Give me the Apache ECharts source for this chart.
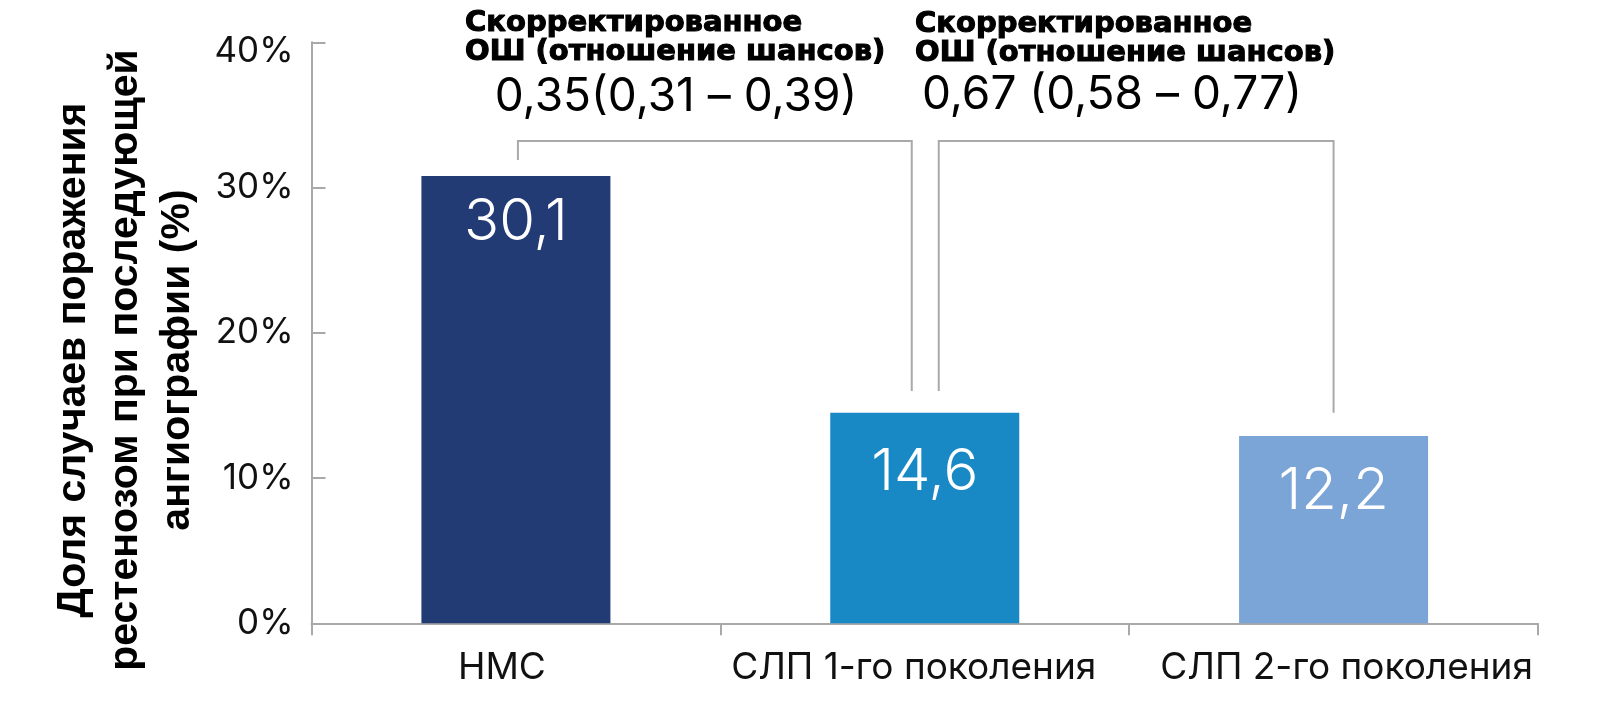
<!DOCTYPE html>
<html>
<head>
<meta charset="utf-8">
<script src="https://cdn.jsdelivr.net/npm/echarts@6/dist/echarts.min.js"></script>
<style>
html,body{margin:0;padding:0;background:#fff;}
#chart{width:1613px;height:710px;}
</style>
</head>
<body>
<div id="chart"></div>
<script>
// ---- data ----
const categories = ['НМС', 'СЛП 1-го поколения', 'СЛП 2-го поколения'];
const barValues = [30.8, 14.5, 12.9];          // bar heights as drawn
const barLabels = ['30,1', '14,6', '12,2'];    // printed values
const yTickLabels = ['0%', '10%', '20%', '30%', '40%'];
const yTitleLines = ['Доля случаев поражения', 'рестенозом при последующей', 'ангиографии (%)'];
const ratioTitle1 = 'Скорректированное';
const ratioTitle2 = 'ОШ (отношение шансов)';
const ratioValues = ['0,35(0,31 – 0,39)', '0,67 (0,58 – 0,77)'];
// brackets: from category, to category, value at left foot, value at right foot, value of top
const bracketFrom = [0, 1];
const bracketTo = [1, 2];
const bracketFromVal = [31.9, 16.0];
const bracketToVal = [16.0, 14.5];
const bracketTopVal = [33.2, 33.2];

// ---- styles ----
const barColors = ['#233b74', '#1889c5', '#7ba4d7'];
const labelDist = [18, 31, 27];
const bracketInset = [[2, -13], [14, 0]];
const xLabelPad = [[0, 28, 0, 0], [0, 22, 0, 0], [0, 0, 0, 26]];
const gray = '#a9a9a9';
const numFont = 'Inter, Roboto, sans-serif';
const boldFont = 'bold 29px "DejaVu Sans", sans-serif';

const chart = echarts.init(document.getElementById('chart'), null, {renderer: 'canvas'});

const bracketData = bracketFrom.map((f, i) => [f, bracketTo[i], bracketFromVal[i], bracketToVal[i], bracketTopVal[i]]);

const xRich = {};
categories.forEach((c, i) => {
  xRich['c' + i] = {fontSize: 37, fontFamily: numFont, color: '#111', padding: xLabelPad[i]};
});

function boldText(x, y, text) {
  return {type: 'text', x: x, y: y, style: {text: text, font: boldFont, fill: '#000', stroke: '#000', lineWidth: 1.1, align: 'left', verticalAlign: 'middle'}};
}

const option = {
  animation: false,
  grid: {left: 311.5, right: 75, top: 42.3, bottom: 86.7, containLabel: false},
  xAxis: {
    type: 'category',
    data: categories,
    axisLine: {lineStyle: {color: gray, width: 2}},
    axisTick: {show: true, length: 12, lineStyle: {color: gray, width: 2}},
    axisLabel: {
      interval: 0,
      margin: 26, color: '#111', fontSize: 37, fontFamily: numFont,
      formatter: function (v, i) { return '{c' + i + '|' + v + '}'; },
      rich: xRich
    }
  },
  yAxis: {
    type: 'value',
    min: 0, max: 40, interval: 10,
    splitLine: {show: false},
    axisLine: {show: true, lineStyle: {color: gray, width: 2}},
    axisTick: {show: true, inside: true, length: 14, lineStyle: {color: gray, width: 2}},
    axisLabel: {
      margin: 18, color: '#111', fontSize: 35, fontFamily: numFont,
      formatter: function (v) {
        const t = yTickLabels[Math.round(v / 10)];
        return v === 40 ? '{top|' + t + '}' : t;
      },
      rich: {top: {fontSize: 35, fontFamily: numFont, color: '#111', padding: [18, 0, 0, 0]}}
    }
  },
  series: [
    {
      type: 'bar',
      barWidth: 189,
      data: barValues.map((v, i) => ({
        value: v,
        itemStyle: {color: barColors[i]},
        label: {distance: labelDist[i]}
      })),
      label: {
        show: true,
        position: 'insideTop',
        color: '#fff',
        fontSize: 58,
        fontWeight: 300,
        fontFamily: numFont,
        formatter: p => barLabels[p.dataIndex]
      }
    },
    {
      type: 'custom',
      silent: true,
      clip: false,
      z: 5,
      encode: {x: 0, y: [2, 3, 4]},
      data: bracketData,
      renderItem: function (params, api) {
        const i = params.dataIndex;
        const p1 = api.coord([api.value(0), api.value(2)]);
        const p2 = api.coord([api.value(1), api.value(3)]);
        const top = api.coord([api.value(0), api.value(4)])[1];
        const x1 = p1[0] + bracketInset[i][0];
        const x2 = p2[0] + bracketInset[i][1];
        return {
          type: 'polyline',
          shape: {points: [[x1, p1[1]], [x1, top], [x2, top], [x2, p2[1]]]},
          style: {stroke: gray, lineWidth: 2, fill: null}
        };
      }
    }
  ],
  graphic: [
    {
      type: 'text', x: 126, y: 360, rotation: Math.PI / 2,
      style: {
        text: yTitleLines.join('\n'),
        font: 'bold 41px "Liberation Sans", Arial, sans-serif',
        fill: '#000', align: 'center', verticalAlign: 'middle', lineHeight: 52
      }
    },
    boldText(465, 23, ratioTitle1),
    boldText(465, 52.5, ratioTitle2),
    {type: 'text', x: 676, y: 97.5, style: {text: ratioValues[0], font: '400 46px ' + numFont, fill: '#000', align: 'center', verticalAlign: 'middle'}},
    boldText(915, 24, ratioTitle1),
    boldText(915, 53, ratioTitle2),
    {type: 'text', x: 1112, y: 95.5, style: {text: ratioValues[1], font: '400 46px ' + numFont, fill: '#000', align: 'center', verticalAlign: 'middle'}}
  ]
};
chart.setOption(option);
</script>
</body>
</html>
